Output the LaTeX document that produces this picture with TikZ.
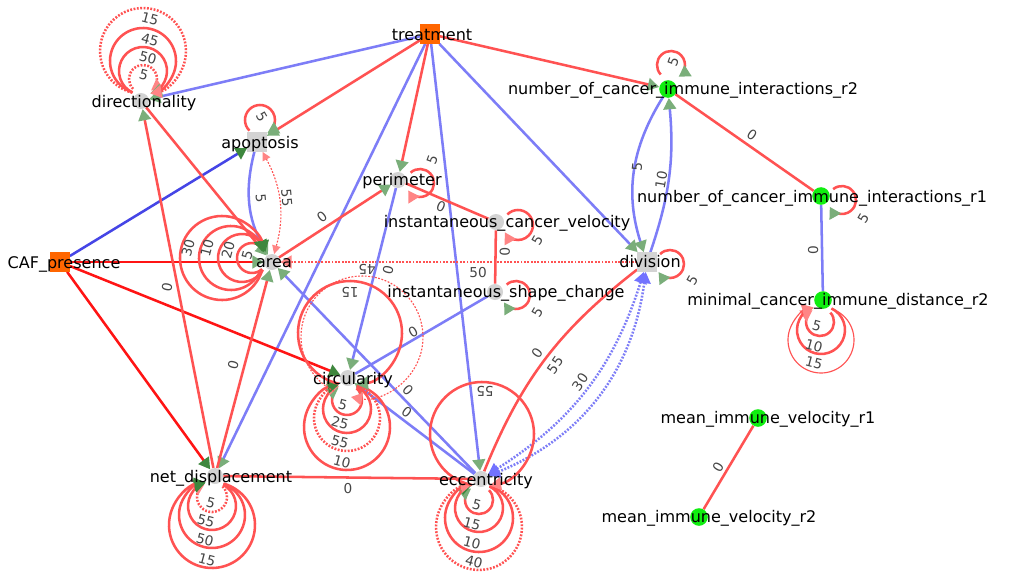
\documentclass[tikz,border=0pt]{standalone}
\usepackage{fontspec}
\setmainfont{DejaVu Sans}
\usetikzlibrary{arrows.meta,calc}
\pgfdeclarelayer{edges}
\pgfsetlayers{edges,main}

\definecolor{nodegrey}{HTML}{D3D3D3}
\definecolor{ctxorange}{HTML}{FF6600}
\definecolor{immgreen}{HTML}{10EE10}
\definecolor{edgered}{HTML}{FF5252}
\definecolor{hotred}{HTML}{FF1414}
\definecolor{edgeblue}{HTML}{7D7DF7}
\definecolor{deepblue}{HTML}{4545E6}
\definecolor{tipgreen}{HTML}{7AAE7A}
\definecolor{tipdark}{HTML}{3E873E}
\definecolor{tippink}{HTML}{FF8585}
\definecolor{tipblue}{HTML}{7272FF}
\definecolor{labgrey}{HTML}{454545}

% loop round a node: [style]{node}{dx}{dy}{radius}, centre offset in px
\newcommand{\selfloop}[5][]{%
  \pgfmathsetmacro{\loopdir}{atan2(-(#4),-(#3))}%
  \pgfmathsetmacro{\loopgap}{asin(min(1,9/(#5)))}%
  \draw[#1] ($(#2)+(#3,#4)+(\loopdir+\loopgap:#5)$)
    arc[start angle=\loopdir+\loopgap, delta angle=360-2*\loopgap, radius=#5];}

\begin{document}
\begin{tikzpicture}[x=0.025cm, y=-0.025cm,
  vnode/.style={circle, fill=nodegrey, inner sep=0pt, minimum size=0.4cm},
  snode/.style={rectangle, fill=nodegrey, inner sep=0pt, minimum size=0.48cm},
  cnode/.style={rectangle, fill=ctxorange, inner sep=0pt, minimum size=0.48cm},
  inode/.style={circle, fill=immgreen, inner sep=0pt, minimum size=0.44cm},
  vname/.style={inner sep=0pt, text height=0.73em, text depth=0pt,
                font=\fontsize{11.4}{13}\selectfont},
  elab/.style={inner sep=0pt, text height=0.73em, text depth=0pt, text=labgrey,
               font=\fontsize{9.7}{11}\selectfont},
  redl/.style={draw=edgered, line width=1.8pt},
  hotl/.style={draw=hotred, line width=1.8pt},
  bluel/.style={draw=edgeblue, line width=1.8pt},
  deepl/.style={draw=deepblue, line width=1.8pt},
  thinl/.style={line width=0.8pt},
  dotline/.style={dash pattern=on 1.3pt off 1.1pt},
  gtip/.style={-{Triangle[length=8pt,width=9pt,color=tipgreen]}},
  dtip/.style={-{Triangle[length=8pt,width=9pt,color=tipdark]}},
  ptip/.style={-{Triangle[length=8pt,width=9pt,color=tippink]}},
  pboth/.style={{Triangle[length=6pt,width=6pt,color=tippink]}-{Triangle[length=6pt,width=6pt,color=tippink]}},
  bboth/.style={{Triangle[length=8pt,width=9pt,color=tipblue]}-{Triangle[length=8pt,width=9pt,color=tipblue]}},
]
  \begin{pgfonlayer}{edges}
    \fill[white] (0,0) rectangle (1014,572);
  \end{pgfonlayer}
  \path[use as bounding box] (0,0) rectangle (1014,572);

  % markers
  \node[cnode] (treatment)      at (430,34)  {};
  \node[cnode] (caf)            at (60,262)  {};
  \node[vnode] (directionality) at (141,101) {};
  \node[snode] (apoptosis)      at (257,142) {};
  \node[vnode] (perimeter)      at (398,180) {};
  \node[vnode] (icv)            at (496,222) {};
  \node[vnode] (isc)            at (495,292) {};
  \node[vnode] (area)           at (272,262) {};
  \node[snode] (division)       at (647,262) {};
  \node[inode] (ncii2)          at (668,89)  {};
  \node[inode] (ncii1)          at (821,196) {};
  \node[inode] (mcid2)          at (823,300) {};
  \node[vnode] (circularity)    at (348,378) {};
  \node[vnode] (netdisp)        at (215,476) {};
  \node[vnode] (ecc)            at (481,479) {};
  \node[inode] (miv1)           at (758,418) {};
  \node[inode] (miv2)           at (699,517) {};

  \begin{pgfonlayer}{edges}
    \draw[bluel, gtip] (treatment) -- (directionality);
    \draw[redl, gtip]  (treatment) -- (apoptosis);
    \draw[redl, gtip]  (treatment) -- (perimeter);
    \draw[bluel, gtip] (treatment) -- (netdisp);
    \draw[bluel, gtip] (treatment) -- (ecc);
    \draw[bluel, gtip] (treatment) -- (division);
    \draw[redl, gtip]  (treatment) -- (ncii2);
    \draw[deepl, dtip] (caf) -- (apoptosis);
    \draw[hotl, gtip]  (caf) -- (area);
    \draw[hotl, dtip]  (caf) -- (circularity);
    \draw[hotl, dtip]  (caf) -- (netdisp);
    \draw[redl, gtip]  (netdisp) -- (directionality);
    \draw[redl, gtip]  (directionality) -- (area);
    \draw[bluel, gtip] (apoptosis) to[bend right=22] (area);
    \draw[redl, thinl, dotline, pboth] (apoptosis) to[bend left=22] (area);
    \draw[redl, gtip]  (area) -- (perimeter);
    \draw[redl, dotline, ptip] (division) -- (area);
    \draw[bluel, gtip] (perimeter) -- (circularity);
    \draw[redl]        (perimeter) -- (icv);
    \draw[redl]        (icv) -- (isc);
    \draw[bluel]       (isc) -- (circularity);
    \draw[bluel, gtip] (ecc) -- (area);
    \draw[bluel, gtip] (ecc) -- (circularity);
    \draw[redl, gtip]  (netdisp) -- (area);
    \draw[redl]        (netdisp) -- (ecc);
    \draw[redl]        (ecc) to[bend left=15] (division);
    \draw[bluel, dotline, bboth] (division) to[bend left=20] (ecc);
    \draw[bluel, dotline, bboth] (division) to[bend left=30] (ecc);
    \draw[bluel, gtip] (ncii2) to[bend right=25] (division);
    \draw[bluel, gtip] (division) to[bend right=12] (ncii2);
    \draw[redl]        (ncii2) -- (ncii1);
    \draw[bluel]       (ncii1) -- (mcid2);
    \draw[redl]        (miv1) -- (miv2);

    \selfloop[redl, dotline, ptip]{directionality}{2}{-22}{14}
    \selfloop[redl, gtip]{directionality}{2}{-30}{24}
    \selfloop[redl, gtip]{directionality}{2}{-40}{33}
    \selfloop[redl, dotline, ptip]{directionality}{2}{-50}{43}
    \selfloop[redl, gtip]{apoptosis}{3}{-22}{15}
    \selfloop[redl, ptip]{perimeter}{22}{3}{14}
    \selfloop[redl, ptip]{icv}{22}{3}{15}
    \selfloop[redl, gtip]{isc}{21}{3}{14}
    \selfloop[redl, gtip]{division}{23}{2}{14}
    \selfloop[redl, gtip]{ncii2}{3}{-24}{14}
    \selfloop[redl, gtip]{ncii1}{21}{4}{14}
    \selfloop[redl, ptip]{mcid2}{-3}{22}{14}
    \selfloop[redl, ptip]{mcid2}{-2}{30}{24}
    \selfloop[redl, thinl, ptip]{mcid2}{-2}{40}{33}
    \foreach \dx/\rr in {-20/15, -30/24, -41/32, -50/42}
      {\selfloop[redl, dtip]{area}{\dx}{-4}{\rr}}
    \selfloop[redl, gtip]{circularity}{-1}{22}{15}
    \selfloop[redl, gtip]{circularity}{-1}{31}{24}
    \selfloop[redl, dotline, ptip]{circularity}{-1}{40}{33}
    \selfloop[redl, dtip]{circularity}{-1}{49}{43}
    \selfloop[redl, gtip]{circularity}{2}{-45}{52}
    \selfloop[redl, thinl, dotline, ptip]{circularity}{14}{-41}{61}
    \selfloop[redl, dotline, ptip]{netdisp}{-3}{21}{15}
    \selfloop[redl, dtip]{netdisp}{-3}{30}{24}
    \selfloop[redl, dtip]{netdisp}{-3}{39}{33}
    \selfloop[redl, dtip]{netdisp}{-3}{49}{43}
    \selfloop[redl, gtip]{ecc}{-2}{21}{14}
    \selfloop[redl, dtip]{ecc}{-2}{29}{24}
    \selfloop[redl, dtip]{ecc}{-2}{39}{34}
    \selfloop[redl, dotline, ptip]{ecc}{-2}{48}{43}
    \selfloop[redl, ptip]{ecc}{1}{-45}{52}
  \end{pgfonlayer}

  % variable names
  \node[vname] (n-treatment)      at (432,35)  {treatment};
  \node[vname] (n-caf)            at (64,263)  {CAF\_presence};
  \node[vname] (n-directionality) at (144,102) {directionality};
  \node[vname] (n-apoptosis)      at (260,143) {apoptosis};
  \node[vname] (n-perimeter)      at (402,180) {perimeter};
  \node[vname] (n-icv)            at (507,222) {instantaneous\_cancer\_velocity};
  \node[vname] (n-isc)            at (506,292) {instantaneous\_shape\_change};
  \node[vname] (n-area)           at (274,262) {area};
  \node[vname] (n-division)       at (650,262) {division};
  \node[vname] (n-ncii2)          at (683,89)  {number\_of\_cancer\_immune\_interactions\_r2};
  \node[vname] (n-ncii1)          at (812,197) {number\_of\_cancer\_immune\_interactions\_r1};
  \node[vname] (n-mcid2)          at (838,300) {minimal\_cancer\_immune\_distance\_r2};
  \node[vname] (n-circularity)    at (353,379) {circularity};
  \node[vname] (n-netdisp)        at (221,477) {net\_displacement};
  \node[vname] (n-ecc)            at (486,480) {eccentricity};
  \node[vname] (n-miv1)           at (768,418) {mean\_immune\_velocity\_r1};
  \node[vname] (n-miv2)           at (709,517) {mean\_immune\_velocity\_r2};

  % lag labels on links
  \foreach \x/\y/\a/\t [count=\i] in {167/287/79/0, 233/365/75/0, 261/198/-85/5,
      287/198/-85/55, 322/217/38/0, 478/272/0/50, 388/270/76/0, 441/206/-23/0,
      505/252/-90/0, 413/332/30/0, 408/390/-46/0, 407/412/-37/0, 348/488/0/0,
      537/353/55/0, 555/365/55/55, 580/382/55/30, 637/167/85/5, 661/180/80/10,
      752/135/-35/0, 813/250/90/0, 718/467/59/0}
    \node[elab, rotate=\a] (e\i) at (\x,\y) {\t};

  % lag labels on loops
  \foreach \x/\y/\a/\t [count=\i] in {144/75/-15/5, 148/58/-15/50, 150/40/-15/45,
      150/19/-15/15, 262/117/-60/5, 432/160/70/5, 537/240/60/5, 537/312/60/5,
      692/280/60/5, 863/218/60/5, 673/62/70/5, 817/326/-15/5, 814/346/-15/10,
      814/363/-15/15, 247/255/75/5, 228/250/75/20, 207/248/75/10, 188/248/75/30,
      343/405/-15/5, 340/423/-15/25, 340/442/-15/55, 342/462/-15/10,
      350/293/180/15, 367/270/180/45, 211/503/-15/5, 206/521/-15/55,
      205/540/-15/50, 207/560/-15/15, 477/505/-15/5, 472/524/-15/15,
      472/543/-15/10, 474/562/-15/40, 485/392/180/55}
    \node[elab, rotate=\a] (l\i) at (\x,\y) {\t};
\end{tikzpicture}
\end{document}
